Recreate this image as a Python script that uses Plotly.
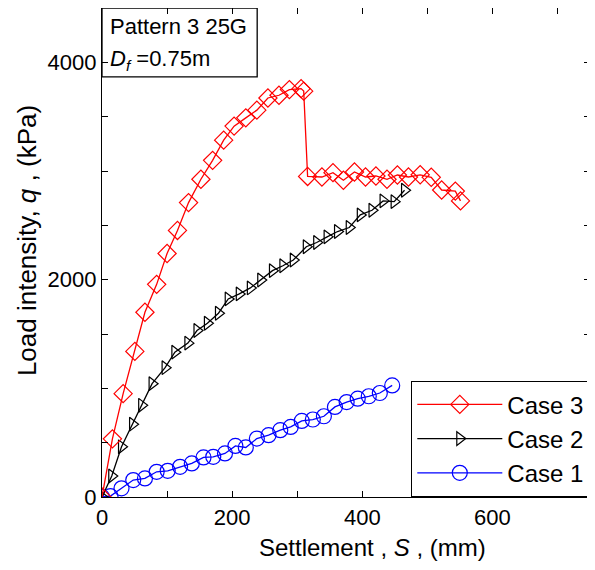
import plotly.graph_objects as go

# Case 3 (red diamonds)
case3_s = [0, 16, 32.5, 50.5, 66, 84, 100, 116, 133, 152, 170, 187, 203, 221, 238, 255, 272, 288, 306, 310,
           316, 338, 355, 371, 388, 405, 421, 438, 454, 471, 489, 506, 522, 543, 551]
case3_q = [0, 535, 951, 1340, 1700, 1957, 2241, 2453, 2709, 2924, 3098, 3284, 3413, 3489, 3560, 3672, 3697, 3749, 3758, 3735,
           2950, 2945, 2985, 2915, 2991, 2945, 2954, 2924, 2963, 2945, 2965, 2942, 2825, 2815, 2725]

# Case 2 (black triangles)
case2_s = [0, 15, 30, 47, 61, 77, 97, 112, 132, 146, 162, 179, 194, 211, 228, 244, 262, 278, 294, 314, 330,
           346, 362, 380, 397, 415, 432, 449, 465]
case2_q = [0, 193, 462, 670, 844, 1043, 1190, 1333, 1416, 1532, 1599, 1691, 1823, 1869, 1924, 1997, 2083, 2128,
           2181, 2303, 2342, 2394, 2443, 2480, 2596, 2639, 2725, 2718, 2823]

# Case 1 (blue circles)
case1_s = [0, 13, 30, 48, 66, 84, 101, 120, 138, 156, 171, 189, 205, 221, 238, 256, 274, 290, 307, 324, 341,
           358, 376, 393, 410, 427, 446]
case1_q = [0, 8, 80, 156, 171, 232, 241, 278, 309, 364, 370, 401, 470, 456, 538, 569, 615, 645, 700, 713, 743,
           829, 874, 905, 927, 957, 1027]

x_ticks = [0, 200, 400, 600]
y_ticks = [0, 2000, 4000]

FONT = "Liberation Sans, Arial, sans-serif"

fig = go.Figure()
fig.add_trace(go.Scatter(x=case1_s, y=case1_q, name="Case 1", mode="lines+markers",
                         line=dict(color="#0000ff", width=1.3),
                         marker=dict(symbol="circle-open", size=15, color="#0000ff", line=dict(width=1.2))))
fig.add_trace(go.Scatter(x=case2_s, y=case2_q, name="Case 2", mode="lines+markers",
                         line=dict(color="#000000", width=1.3),
                         marker=dict(symbol="triangle-right-open", size=12, color="#000000", line=dict(width=1.2))))
fig.add_trace(go.Scatter(x=case3_s, y=case3_q, name="Case 3", mode="lines+markers",
                         line=dict(color="#ff0000", width=1.3),
                         marker=dict(symbol="diamond-open", size=14, color="#ff0000", line=dict(width=1.2))))

axis_common = dict(showline=True, linecolor="black", linewidth=1.3, mirror="ticks",
                   ticks="inside", ticklen=6, tickcolor="black", tickwidth=1.2,
                   showgrid=False, zeroline=False,
                   tickfont=dict(family=FONT, size=22, color="black"))

fig.update_xaxes(range=[0, 750], tickvals=x_ticks, ticktext=[str(v) for v in x_ticks],
                 minor=dict(dtick=100, tick0=0, ticks="inside", ticklen=6, tickcolor="black", tickwidth=1.2),
                 **axis_common)
fig.update_yaxes(range=[0, 4500], tickvals=y_ticks, ticktext=[str(v) for v in y_ticks],
                 minor=dict(dtick=500, tick0=0, ticks="inside", ticklen=6, tickcolor="black", tickwidth=1.2),
                 **axis_common)

# axis titles
fig.add_annotation(xref="paper", yref="paper", x=0.555, y=-0.104, xanchor="center", yanchor="middle",
                   text="Settlement , <i>S</i> , (mm)", showarrow=False,
                   font=dict(family=FONT, size=24, color="black"))
fig.add_annotation(xref="paper", yref="paper", x=-0.154, y=0.525, xanchor="center", yanchor="middle",
                   textangle=-90, text="Load intensity, <i>q</i> , (kPa)", showarrow=False,
                   font=dict(family=FONT, size=26, color="black"))

# info box
fig.add_shape(type="rect", xref="paper", yref="paper", x0=0, x1=0.318, y0=0.859, y1=1,
              line=dict(color="black", width=1.3), fillcolor="rgba(0,0,0,0)")
fig.add_annotation(xref="paper", yref="paper", x=0.012, y=0.962, xanchor="left", yanchor="middle",
                   text="Pattern 3 25G", showarrow=False, font=dict(family=FONT, size=22, color="black"))
fig.add_annotation(xref="paper", yref="paper", x=0.012, y=0.893, xanchor="left", yanchor="middle",
                   text="<i>D<sub>f</sub></i> =0.75m", showarrow=False, font=dict(family=FONT, size=22, color="black"))

# page body adds an 8px offset, so the figure is sized to compensate
fig.update_layout(
    width=587, height=562,
    margin=dict(l=94, r=5, t=0, b=73, autoexpand=False),
    plot_bgcolor="white", paper_bgcolor="white",
    font=dict(family=FONT, size=22, color="black"),
    legend=dict(x=1, y=0, xanchor="right", yanchor="bottom", traceorder="reversed",
                bgcolor="white", bordercolor="black", borderwidth=1.3,
                font=dict(family=FONT, size=24, color="black"), itemwidth=85),
)

fig.write_html("out.html")
